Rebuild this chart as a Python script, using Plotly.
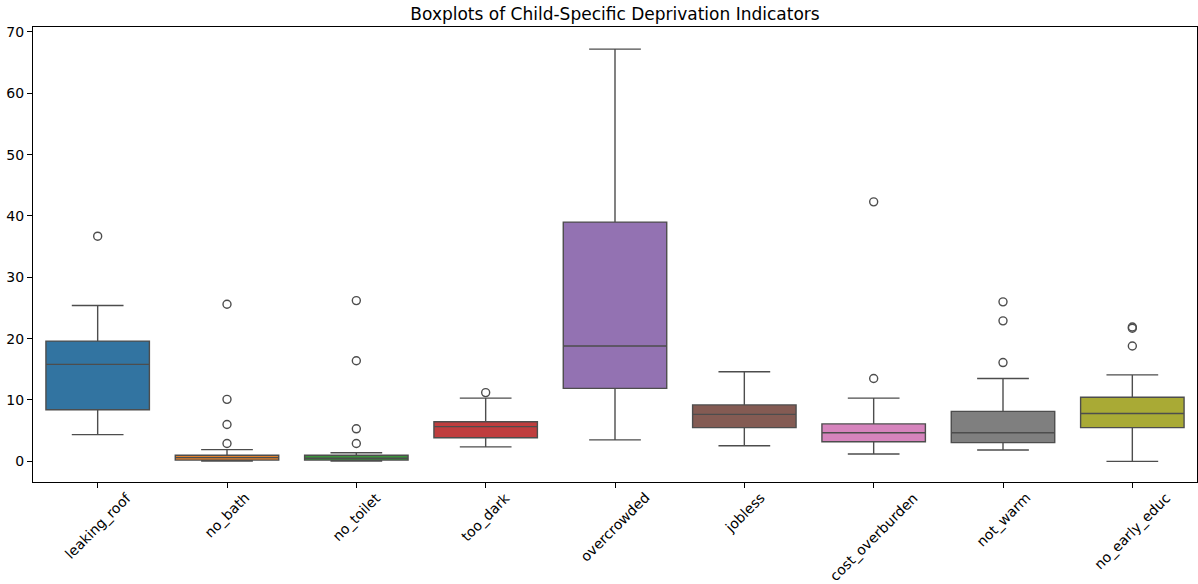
import plotly.graph_objects as go

# Indicator names (x categories)
indicators = ["leaking_roof", "no_bath", "no_toilet", "too_dark", "overcrowded",
              "jobless", "cost_overburden", "not_warm", "no_early_educ"]

# Box statistics per indicator
q1_vals     = [8.4, 0.2, 0.2, 3.85, 11.9, 5.5, 3.2, 3.05, 5.5]
median_vals = [15.8, 0.6, 0.5, 5.65, 18.8, 7.65, 4.65, 4.65, 7.8]
q3_vals     = [19.6, 1.0, 1.0, 6.45, 39.0, 9.2, 6.1, 8.15, 10.45]
low_whisker = [4.35, 0.05, 0.05, 2.35, 3.5, 2.55, 1.2, 1.85, 0.0]
high_whisker = [25.4, 1.9, 1.4, 10.3, 67.2, 14.6, 10.3, 13.5, 14.1]

# Outlying observations per indicator
outliers = [
    [36.7],
    [25.6, 10.1, 6.0, 2.9],
    [26.2, 16.4, 5.3, 2.9],
    [11.2],
    [],
    [],
    [42.3, 13.5],
    [26.0, 22.9, 16.1],
    [21.9, 21.7, 18.8],
]

colors = ["#3274a1", "#e1812c", "#3a923a", "#c03d3e", "#9372b2",
          "#845b53", "#d684bd", "#7f7f7f", "#a9aa35"]
line_color = "#4d4d4d"

fig = go.Figure()

for i, name in enumerate(indicators):
    fig.add_trace(go.Box(
        x=[name],
        q1=[q1_vals[i]], median=[median_vals[i]], q3=[q3_vals[i]],
        lowerfence=[low_whisker[i]], upperfence=[high_whisker[i]],
        fillcolor=colors[i],
        line=dict(color=line_color, width=1.4),
        width=0.8,
        whiskerwidth=0.5,
        boxpoints=False,
        showlegend=False,
        hoverinfo="skip",
    ))
    if outliers[i]:
        fig.add_trace(go.Scatter(
            x=[name] * len(outliers[i]), y=outliers[i],
            mode="markers",
            marker=dict(symbol="circle-open", size=8, color=line_color,
                        line=dict(width=1.4, color=line_color)),
            showlegend=False,
            hoverinfo="skip",
        ))

# Rotated category labels, centred under each tick
for name in indicators:
    fig.add_annotation(
        x=name, y=0, xref="x", yref="paper",
        text=name, textangle=-45, showarrow=False,
        xanchor="center", yanchor="top", yshift=-5,
        font=dict(family="DejaVu Sans", size=14, color="black"),
    )

fig.update_layout(
    width=1198, height=584,
    margin=dict(l=33, r=1, t=27, b=102, autoexpand=False),
    paper_bgcolor="white",
    plot_bgcolor="white",
    font=dict(family="DejaVu Sans", size=14, color="black"),
    title=dict(text="Boxplots of Child-Specific Deprivation Indicators",
               x=0.5, xref="paper", xanchor="center",
               y=0.976, yanchor="middle",
               font=dict(family="DejaVu Sans", size=17, color="black")),
    boxmode="overlay",
)

fig.update_xaxes(
    type="category",
    categoryorder="array", categoryarray=indicators,
    range=[-0.5, 8.5],
    showticklabels=False,
    ticks="outside", ticklen=5, tickcolor="black", tickwidth=1,
    showline=True, linecolor="black", linewidth=1, mirror=True,
    showgrid=False, zeroline=False, automargin=False,
)
fig.update_yaxes(
    range=[-3.37, 70.8],
    tickmode="array", tickvals=[0, 10, 20, 30, 40, 50, 60, 70],
    ticks="outside", ticklen=5, tickcolor="black", tickwidth=1,
    tickfont=dict(family="DejaVu Sans", size=14, color="black"),
    showline=True, linecolor="black", linewidth=1, mirror=True,
    showgrid=False, zeroline=False, automargin=False,
)

fig.write_html("out.html")
